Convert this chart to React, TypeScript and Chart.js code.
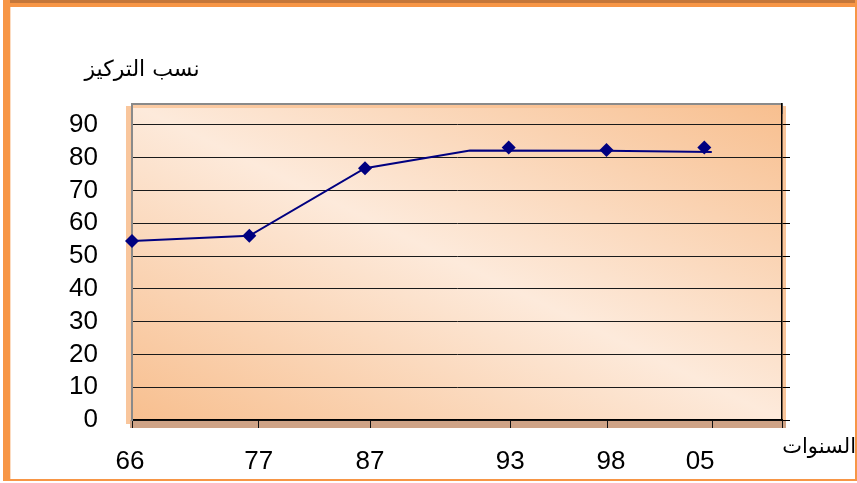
import React, { useEffect, useRef } from 'react';
import { Chart, registerables } from 'chart.js';

Chart.register(...registerables);

// ---- data ----
const yearLabels = ['66', '77', '87', '93', '98', '05'];
// label slots along the horizontal axis (axis units 0..10)
const labelSlots = [-0.03, 1.95, 3.66, 5.82, 7.37, 8.74];
// tick-mark slots along the horizontal axis
const tickSlots = [0, 1.95, 3.67, 5.83, 7.31, 8.93, 10];
// marker (diamond) points
const markerX = [0, 1.805, 3.585, 5.795, 7.3, 8.805];
const markerY = [54.6, 56.2, 76.8, 83.1, 82.4, 83.1];
// drawn polyline vertices
const lineX = [0, 1.805, 3.585, 5.2, 7.3, 8.92];
const lineY = [54.6, 56.2, 76.8, 82.2, 82.15, 81.75];
const yTicks = [0, 10, 20, 30, 40, 50, 60, 70, 80, 90];
const yMax = 96.4;
const yTitle = 'نسب التركيز';
const xTitle = 'السنوات';

const W = 857;
const H = 483;

const decor = {
  id: 'decor',
  beforeDraw(chart: any) {
    const { ctx, chartArea: a } = chart;
    ctx.save();
    ctx.fillStyle = '#ffffff';
    ctx.fillRect(0, 0, W, H);
    // outer frame
    ctx.fillStyle = '#F79646';
    ctx.fillRect(3, 0, W - 3, 7);
    ctx.fillStyle = '#C4773A';
    ctx.fillRect(3, 0, W - 3, 3);
    ctx.fillStyle = '#F79646';
    ctx.fillRect(3, 0, 7, 481);
    ctx.fillRect(855, 0, 2, 481);
    ctx.fillRect(3, 479, W - 3, 2);
    ctx.fillStyle = '#FCDCC2';
    ctx.fillRect(10, 7, 1, 472);
    // side strips
    ctx.fillStyle = '#F9C69C';
    ctx.fillRect(a.left - 6, a.top + 2, 6, a.bottom - a.top + 2);
    ctx.fillRect(a.right, a.top + 2, 4, a.bottom - a.top + 6);
    ctx.fillStyle = '#CFA386';
    ctx.fillRect(a.left - 2, a.bottom, a.right - a.left + 6, 8);
    // plot gradient: light band along the top-left -> bottom-right diagonal
    const w = a.right - a.left;
    const h = a.bottom - a.top;
    const cx = (a.left + a.right) / 2;
    const cy = (a.top + a.bottom) / 2;
    const len = Math.hypot(w, h);
    const ux = h / len;
    const uy = -w / len;
    const L = 310;
    const g = ctx.createLinearGradient(cx - L * ux, cy - L * uy, cx + L * ux, cy + L * uy);
    g.addColorStop(0, '#F7BB88');
    g.addColorStop(0.5, '#FDEADB');
    g.addColorStop(1, '#F7BB88');
    ctx.fillStyle = g;
    ctx.fillRect(a.left, a.top, w, h);
    // top strip
    ctx.fillStyle = 'rgba(249,190,140,0.7)';
    ctx.fillRect(a.left, a.top + 1, w, 3);
    // gray top border
    ctx.strokeStyle = '#8A8A8A';
    ctx.lineWidth = 2;
    ctx.beginPath();
    ctx.moveTo(a.left - 1, a.top);
    ctx.lineTo(a.right, a.top);
    ctx.lineTo(a.right, a.top + 10);
    ctx.stroke();
    ctx.restore();
  },
};

export default function App() {
  const ref = useRef<HTMLCanvasElement>(null);
  useEffect(() => {
    const chart = new Chart(ref.current as HTMLCanvasElement, {
      type: 'line',
      data: {
        datasets: [
          {
            data: lineX.map((x, i) => ({ x, y: lineY[i] })),
            borderColor: '#000080',
            borderWidth: 2,
            pointRadius: 0,
            tension: 0,
            clip: false,
          } as any,
          {
            data: markerX.map((x, i) => ({ x, y: markerY[i] })),
            showLine: false,
            pointStyle: 'rectRot',
            pointRadius: 7,
            pointBackgroundColor: '#000080',
            pointBorderColor: '#000080',
            pointBorderWidth: 0,
            clip: false,
          } as any,
        ],
      },
      options: {
        responsive: false,
        animation: false,
        devicePixelRatio: 1,
        layout: { padding: { top: 104, left: 0, right: 0, bottom: 0 } },
        plugins: { legend: { display: false }, tooltip: { enabled: false } },
        scales: {
          x: {
            type: 'linear',
            position: 'bottom',
            weight: 0,
            min: 0,
            max: 10,
            afterBuildTicks: (s: any) => {
              s.ticks = tickSlots.map((v) => ({ value: v }));
            },
            afterFit: (s: any) => {
              s.height = 8;
            },
            ticks: { display: false },
            grid: { drawOnChartArea: false, drawTicks: true, tickLength: 8, color: '#111', lineWidth: 1 },
            border: { display: true, color: '#000', width: 1.5 },
          },
          xl: {
            type: 'linear',
            axis: 'x',
            position: 'bottom',
            weight: 1,
            min: 0,
            max: 10,
            afterBuildTicks: (s: any) => {
              s.ticks = labelSlots.map((v) => ({ value: v }));
            },
            afterFit: (s: any) => {
              s.height = 55;
            },
            ticks: {
              autoSkip: false,
              maxRotation: 0,
              padding: 18,
              color: '#000',
              font: { family: '"Liberation Sans", Arial, sans-serif', size: 26 },
              callback: (_v: any, i: number) => yearLabels[i],
            },
            grid: { display: false, drawTicks: false },
            border: { display: false },
          },
          y: {
            type: 'linear',
            position: 'left',
            min: 0,
            max: yMax,
            afterBuildTicks: (s: any) => {
              s.ticks = yTicks.map((v) => ({ value: v }));
            },
            afterFit: (s: any) => {
              s.width = 132;
            },
            ticks: {
              padding: 34,
              color: '#000',
              font: { family: '"Liberation Sans", Arial, sans-serif', size: 26 },
            },
            grid: { color: '#1a1a1a', lineWidth: 1, drawTicks: false },
            border: { display: true, color: '#8A8A8A', width: 2 },
          },
          y2: {
            type: 'linear',
            position: 'right',
            min: 0,
            max: yMax,
            afterBuildTicks: (s: any) => {
              s.ticks = yTicks.map((v) => ({ value: v }));
            },
            afterFit: (s: any) => {
              s.width = 75;
            },
            ticks: { display: false },
            grid: { drawOnChartArea: false, drawTicks: true, tickLength: 8, color: '#000', lineWidth: 1 },
            border: { display: true, color: '#000', width: 1.5 },
          },
        },
      } as any,
      plugins: [decor],
    });
    return () => chart.destroy();
  }, []);

  return (
    <div style={{ position: 'absolute', left: 0, top: 0, width: W, height: H }}>
      <canvas ref={ref} width={W} height={H} style={{ display: 'block', width: W, height: H }} />
      <div
        dir="rtl"
        style={{
          position: 'absolute',
          left: 62,
          top: 54,
          width: 160,
          textAlign: 'center',
          fontFamily: '"DejaVu Sans", Arial, sans-serif',
          fontSize: 22,
          lineHeight: '30px',
          color: '#000',
          whiteSpace: 'nowrap',
        }}
      >
        {yTitle}
      </div>
      <div
        dir="rtl"
        style={{
          position: 'absolute',
          left: 770,
          top: 432,
          width: 86,
          textAlign: 'right',
          fontFamily: '"DejaVu Sans", Arial, sans-serif',
          fontSize: 21,
          lineHeight: '28px',
          color: '#000',
          whiteSpace: 'nowrap',
        }}
      >
        {xTitle}
      </div>
    </div>
  );
}
